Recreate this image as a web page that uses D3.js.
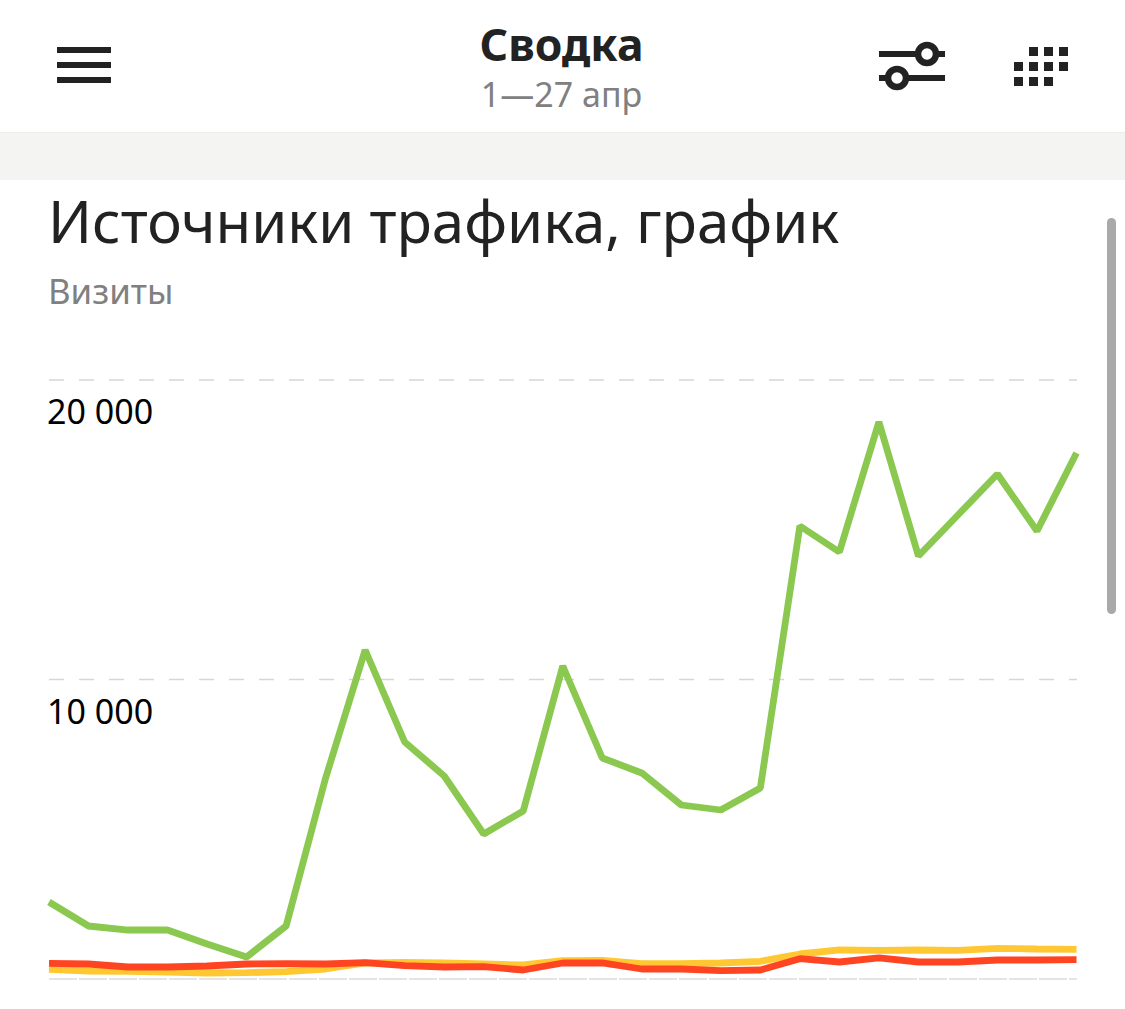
<!DOCTYPE html>
<html><head><meta charset="utf-8">
<script src="https://cdnjs.cloudflare.com/ajax/libs/d3/7.8.5/d3.min.js"></script>
<style>html,body{margin:0;padding:0;background:#fff;overflow:hidden}svg{display:block}text{font-family:"Noto Sans","Open Sans",sans-serif}</style>
</head><body><svg id="c" width="1125" height="1009"></svg>
<script>
const days = d3.range(1, 28);
const direct = [2554,1753,1619,1619,1152,718,1753,6695,10969,7897,6762,4825,5593,10434,7363,6862,5793,5626,6361,15109,14241,18582,14107,15476,16845,14942,17547];
const social = [307,250,240,217,184,194,227,317,518,534,518,484,451,595,601,494,494,518,574,818,952,942,952,942,1009,985,975];
const referral = [508,484,384,384,418,484,500,484,528,428,384,394,284,518,518,317,317,260,284,661,551,685,551,551,618,618,628];
const yTicks = [0, 10000, 20000];
const tickLabels = {0: "", 10000: "10 000", 20000: "20 000"};
const titleText = "Источники трафика, график";
const subtitleText = "Визиты";
const headerTitle = "Сводка";
const headerSub = "1—27 апр";

const svg = d3.select("#c");
const x = d3.scaleLinear().domain([1, 27]).range([49, 1076.5]);
const y = d3.scaleLinear().domain([0, 20000]).range([978.5, 379.5]);

// chrome
svg.append("rect").attr("y", 132).attr("width", 1125).attr("height", 1.5).attr("fill", "#ececea");
svg.append("rect").attr("y", 133).attr("width", 1125).attr("height", 47).attr("fill", "#f4f4f3");
svg.append("rect").attr("x", 1107).attr("y", 218).attr("width", 9).attr("height", 396).attr("rx", 4.5).attr("fill", "#a9a9a9");

// burger
[50, 65, 80].forEach(v => svg.append("rect").attr("x", 57).attr("y", v - 3).attr("width", 54).attr("height", 6).attr("fill", "#222"));

// sliders
const ic = svg.append("g").attr("stroke", "#222").attr("fill", "none");
ic.append("line").attr("x1", 879).attr("x2", 945).attr("y1", 54).attr("y2", 54).attr("stroke-width", 6);
ic.append("line").attr("x1", 879).attr("x2", 945).attr("y1", 78).attr("y2", 78).attr("stroke-width", 6);
[[927, 54], [897, 78]].forEach(p => ic.append("circle").attr("cx", p[0]).attr("cy", p[1]).attr("r", 9).attr("stroke-width", 6.5).attr("fill", "#fff"));

// grid dots
[[1029,47],[1044,47],[1059,47],[1014,62],[1029,62],[1044,62],[1059,62],[1014,77],[1029,77],[1044,77]].forEach(p =>
  svg.append("rect").attr("x", p[0]).attr("y", p[1]).attr("width", 9).attr("height", 9).attr("fill", "#222"));

// header text
svg.append("text").attr("x", 561.5).attr("y", 61).attr("text-anchor", "middle").attr("font-size", 44.5).attr("font-weight", 700).attr("fill", "#222").text(headerTitle);
svg.append("text").attr("x", 561.5).attr("y", 107).attr("text-anchor", "middle").attr("font-size", 34).attr("fill", "#808080").text(headerSub);
svg.append("text").attr("x", 48).attr("y", 243).attr("font-size", 58.2).attr("fill", "#222").text(titleText);
svg.append("text").attr("x", 48).attr("y", 304).attr("font-size", 34.8).attr("fill", "#808080").text(subtitleText);

// axis
const axis = d3.axisRight(y).tickValues(yTicks).tickSize(1028).tickFormat(d => tickLabels[d]);
const ag = svg.append("g").attr("transform", "translate(49,0)").call(axis);
ag.select(".domain").remove();
ag.selectAll("line").attr("stroke", d => d === 0 ? "#dcdcdc" : "#d6d6d6").attr("stroke-width", 1.5).attr("stroke-dasharray", d => d === 0 ? "28 2" : "15 15");
ag.selectAll("text").attr("x", -2).attr("dy", 44).attr("text-anchor", "start").attr("font-size", 34).attr("fill", "#000").style("font-family", '"Noto Sans",sans-serif');

// lines
const line = d3.line().x((d, i) => x(days[i])).y(d => y(d));
[[direct, "#8bc84f"], [social, "#ffc832"], [referral, "#ff4422"]].forEach(s =>
  svg.append("path").attr("d", line(s[0])).attr("fill", "none").attr("stroke", s[1]).attr("stroke-width", 6.8).attr("stroke-linejoin", "bevel"));
</script></body></html>
